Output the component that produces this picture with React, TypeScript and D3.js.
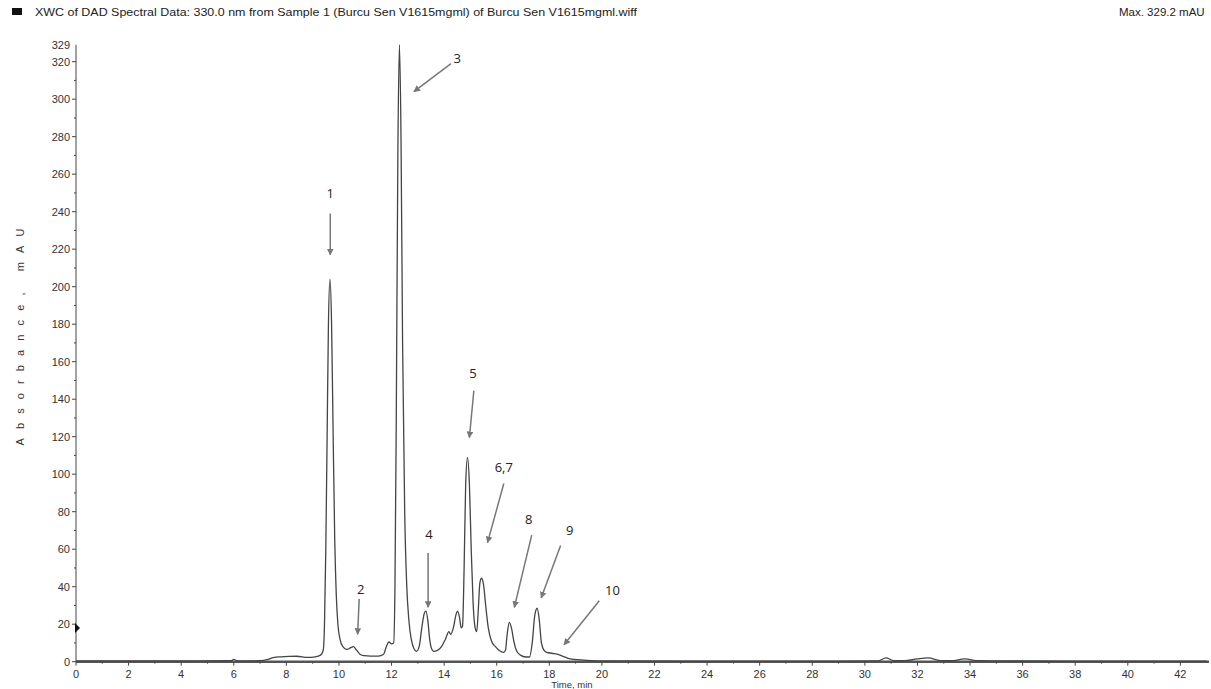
import * as d3 from 'd3';
import React from 'react';

// chromatogram trace (time in min, absorbance in mAU)
const timeMin = [
    0, 2, 4, 5.9, 6.0, 6.1, 6.3, 7.0, 7.3, 7.5, 7.8, 8.1, 8.4, 8.8, 9.1, 9.3,
    9.4, 9.45, 9.5, 9.55, 9.6, 9.66, 9.72, 9.78, 9.84, 9.9, 9.96, 10.04, 10.15, 10.3, 10.45, 10.55,
    10.65, 10.8, 10.95, 11.2, 11.5, 11.7, 11.8, 11.9, 12.0, 12.08, 12.13, 12.18, 12.24, 12.3, 12.36, 12.42,
    12.5, 12.58, 12.66, 12.75, 12.85, 12.95, 13.05, 13.15, 13.25, 13.31, 13.38, 13.45, 13.52, 13.6, 13.75, 13.9,
    14.05, 14.18, 14.25, 14.35, 14.45, 14.51, 14.58, 14.65, 14.7, 14.76, 14.82, 14.89, 14.96, 15.03, 15.1, 15.18,
    15.24, 15.3, 15.36, 15.42, 15.5, 15.58, 15.68, 15.8, 15.95, 16.1, 16.25, 16.33, 16.4, 16.48, 16.56, 16.65,
    16.75, 16.9, 17.1, 17.25, 17.35, 17.45, 17.54, 17.62, 17.7, 17.8, 17.9, 18.1, 18.3, 18.5, 18.8, 19.2,
    19.6, 20, 24, 28, 30.5, 30.8, 31.1, 31.5, 32.0, 32.4, 32.9, 33.3, 33.8, 34.3, 35, 38, 43
];
const absorbance = [
    0.4, 0.4, 0.4, 0.5, 1.2, 0.6, 0.4, 0.5, 1.2, 2.2, 2.6, 2.8, 2.9, 2.3, 2.6, 3.5,
    6, 20, 60, 120, 180, 204, 180, 120, 65, 35, 20, 12, 8, 6.5, 7.5, 8,
    6.5, 4, 3.2, 3, 3, 4, 8, 10.5, 9.5, 10, 40, 130, 270, 329, 280, 170,
    80, 40, 22, 12, 7, 5.5, 8, 18, 26, 27, 22, 12, 7, 5.5, 6, 8,
    12, 16, 14.5, 18, 25, 27, 24, 18, 19, 50, 95, 109, 95, 60, 32, 18,
    16, 28, 42, 44.5, 41, 30, 18, 11, 8, 6, 5, 6, 15, 21, 18, 11,
    6, 3.5, 2.5, 2.5, 10, 25, 28.5, 22, 10, 6, 5, 4.5, 4, 3, 1.5, 1,
    0.6, 0.4, 0.3, 0.3, 0.4, 2, 0.6, 0.5, 1.5, 2, 0.6, 0.5, 1.5, 0.5, 0.4, 0.3, 0.3
];

// peak annotations: label text, label position, arrow tail and head (data units)
const peakLabels = ['1', '2', '3', '4', '5', '6,7', '8', '9', '10'];
const labelAt = [[9.67, 250], [10.83, 39], [14.5, 322], [13.42, 68], [15.1, 154], [16.27, 104], [17.22, 76], [18.78, 70], [20.4, 38]];
const arrowFrom = [[9.67, 239], [10.77, 33.5], [14.26, 319], [13.39, 58], [15.13, 144.5], [16.27, 95], [17.33, 67.5], [18.43, 62]
    , [19.9, 32.5]];
const arrowTo = [[9.67, 217], [10.71, 14.6], [12.85, 304], [13.39, 29], [14.96, 119.5], [15.65, 63.5], [16.67, 29], [17.69, 34], [18.56, 9]];

const yTicks = [0, 20, 40, 60, 80, 100, 120, 140, 160, 180, 200, 220, 240, 260, 280, 300, 320];
const xTicks = [0, 2, 4, 6, 8, 10, 12, 14, 16, 18, 20, 22, 24, 26, 28, 30, 32, 34, 36, 38, 40, 42];

const W = 1211;
const H = 689;
const font = 'Arial, "Liberation Sans", sans-serif';

export default function App() {
    const x = d3.scaleLinear().domain([0, 43.05]).range([76, 1208]);
    const y = d3.scaleLinear().domain([0, 329]).range([661.7, 44.8]);

    const pts: [number, number][] = timeMin.map((t, i) => [t, absorbance[i]]);
    const line = d3.line<[number, number]>()
        .x(d => x(d[0]))
        .y(d => y(d[1]))
        .curve(d3.curveMonotoneX);

    const yMinor = d3.range(10, 330, 20);
    const xMinor = d3.range(1, 43, 2);

    return (
        <svg width={W} height={H} style={{ position: 'absolute', left: 0, top: 0, background: '#fff' }}
            fontFamily={font}>
            <defs>
                <marker id="ah" viewBox="0 0 10 10" refX="9" refY="5" markerWidth="4.5" markerHeight="4.5"
                    orient="auto">
                    <path d="M0,0L10,5L0,10z" fill="#777" />
                </marker>
            </defs>

            {/* header */}
            <rect x={12} y={8} width={10} height={7} fill="#111" />
            <text x={35} y={16} fontSize={11.5} fill="#222" textLength={602} lengthAdjust="spacingAndGlyphs">
                XWC of DAD Spectral Data: 330.0 nm from Sample 1 (Burcu Sen V1615mgml) of Burcu Sen V1615mgml.wiff
            </text>
            <text x={1119} y={16} fontSize={11.5} fill="#222">Max. 329.2 mAU</text>

            {/* y axis */}
            <line x1={x(0)} x2={x(0)} y1={y(329)} y2={y(0)} stroke="#444" strokeWidth={1} />
            {yTicks.map(v => (
                <g key={'y' + v}>
                    <line x1={x(0) - 4} x2={x(0)} y1={y(v)} y2={y(v)} stroke="#444" />
                    <text x={x(0) - 6} y={y(v) + 4} fontSize={11} fill="#333" textAnchor="end">{v}</text>
                </g>
            ))}
            {yMinor.map(v => (
                <line key={'ym' + v} x1={x(0) - 2} x2={x(0)} y1={y(v)} y2={y(v)} stroke="#444" />
            ))}
            <text x={x(0) - 6} y={y(329) + 4} fontSize={11} fill="#333" textAnchor="end">329</text>
            <path d={`M${x(0) - 1},${y(18) - 5}L${x(0) + 4},${y(18)}L${x(0) - 1},${y(18) + 5}z`} fill="#111" />
            <text transform="translate(24,337) rotate(-90)" fontSize={11} fill="#333"
                textAnchor="middle" textLength={217} lengthAdjust="spacing">Absorbance, mAU</text>

            {/* x axis */}
            <line x1={x(0)} x2={1209} y1={y(0)} y2={y(0)} stroke="#555" strokeWidth={2.5} />
            {xTicks.map(t => (
                <g key={'x' + t}>
                    <line x1={x(t)} x2={x(t)} y1={y(0)} y2={y(0) + 4} stroke="#444" />
                    <text x={x(t)} y={y(0) + 16} fontSize={11} fill="#333" textAnchor="middle">{t}</text>
                </g>
            ))}
            {xMinor.map(t => (
                <line key={'xm' + t} x1={x(t)} x2={x(t)} y1={y(0)} y2={y(0) + 2} stroke="#444" />
            ))}
            <text x={572} y={688} fontSize={9.5} fill="#333" textAnchor="middle">Time, min</text>

            {/* trace */}
            <path d={line(pts) || ''} fill="none" stroke="#444" strokeWidth={1.3} strokeLinejoin="round" />

            {/* annotations */}
            {peakLabels.map((lab, i) => (
                <g key={'p' + i}>
                    <text x={x(labelAt[i][0])} y={y(labelAt[i][1]) + 5} fontSize={13}
                        fontFamily='"Open Sans", Calibri, sans-serif' fill="#222" textAnchor="middle">{lab}</text>
                    <line x1={x(arrowFrom[i][0])} y1={y(arrowFrom[i][1])} x2={x(arrowTo[i][0])} y2={y(arrowTo[i][1])}
                        stroke="#777" strokeWidth={1.5} markerEnd="url(#ah)" />
                </g>
            ))}
        </svg>
    );
}
